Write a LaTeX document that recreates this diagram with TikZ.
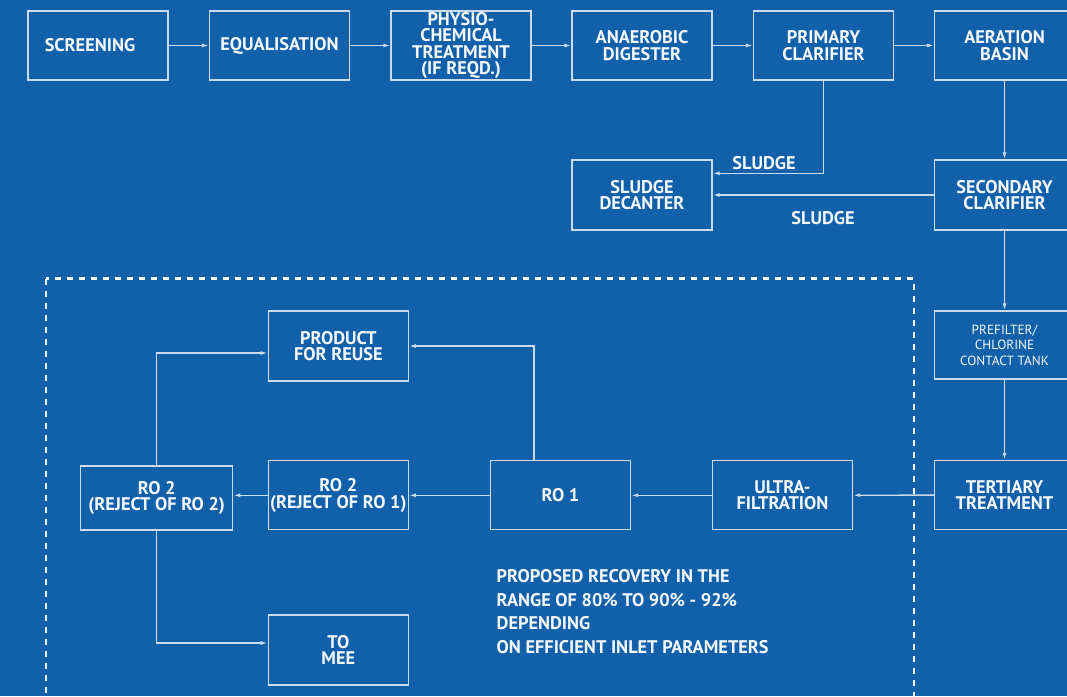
\documentclass[tikz,border=0pt]{standalone}
\usepackage{fontspec}
\setmainfont{PT Sans}
\usetikzlibrary{arrows.meta,calc}
\definecolor{bgblue}{RGB}{16,96,170}
\definecolor{linecol}{RGB}{205,218,235}
\definecolor{txtcol}{RGB}{246,248,252}
\newcommand{\bxfont}{\fontsize{18.3}{16.5}\selectfont\bfseries}
\newcommand{\lightfont}{\fontsize{13.3}{15.5}\selectfont}
\tikzset{
  stage/.style={draw=linecol, line width=1.3pt, minimum width=140pt, minimum height=69pt,
    align=center, font=\bxfont, text=txtcol, inner sep=0pt},
  flow/.style={draw=linecol, line width=1.3pt, -{Latex[length=7pt,width=4pt]}},
  lbl/.style={font=\bxfont, text=txtcol, inner sep=0pt},
  zone/.style={draw=txtcol, line width=2.2pt, dash pattern=on 6pt off 6pt}
}
\begin{document}
\begin{tikzpicture}[x=1pt,y=-1pt]
\fill[bgblue] (0,0) rectangle (1067,696);
\useasboundingbox (0,0) rectangle (1067,696);
\clip (0,0) rectangle (1067,696);
% dashed zone
\draw[zone] (46,278.5) rectangle (914,720);
% top row
\node[stage] (scr) at (98,45.5) {SCREENING\hspace*{16pt}};
\node[stage] (equ) at (279.5,45.5) {EQUALISATION};
\node[stage] (phy) at (461,45.5) {PHYSIO-\\CHEMICAL\\TREATMENT\\(IF REQD.)};
\node[stage] (ana) at (642,45.5) {ANAEROBIC\\DIGESTER};
\node[stage] (pri) at (823.5,45.5) {PRIMARY\\CLARIFIER};
\node[stage] (aer) at (1004.5,45.5) {AERATION\\BASIN};
% sludge row
\node[stage, minimum height=70pt] (dec) at (642,195) {SLUDGE\\DECANTER};
\node[stage, minimum height=70pt] (sec) at (1004.5,195) {SECONDARY\\CLARIFIER};
% right column
\node[stage, minimum height=68pt, font=\lightfont] (pre) at (1004.5,345) {PREFILTER/\\CHLORINE\\CONTACT TANK};
\node[stage] (ter) at (1004.5,495) {TERTIARY\\TREATMENT};
% bottom row
\node[stage] (uf) at (782.5,495.3) {ULTRA-\\FILTRATION};
\node[stage] (ro1) at (560.5,495.3) {RO 1};
\node[stage] (rr1) at (338.3,495.3) {RO 2\\(REJECT OF RO 1)};
\node[stage, minimum width=152pt, minimum height=64pt] (rr2) at (156.7,498) {RO 2\\(REJECT OF RO 2)};
\node[stage, minimum height=70pt] (prod) at (338.3,346) {PRODUCT\\FOR REUSE};
\node[stage, minimum height=70pt] (mee) at (338.3,650) {TO\\MEE};
% top row arrows
\draw[flow] (scr) -- (equ);
\draw[flow] (equ) -- (phy);
\draw[flow] (phy) -- (ana);
\draw[flow] (ana) -- (pri);
\draw[flow] (pri) -- (aer);
% right column arrows
\draw[flow] (aer) -- (sec);
\draw[flow] (sec) -- (pre);
\draw[flow] (pre) -- (ter);
% sludge
\coordinate (decin) at ($(dec.north east)+(0,14)$);
\draw[flow] (pri.south) |- (decin);
\draw[flow] (sec.west) -- (dec.east);
\node[lbl] (sl1) at (764,163) {SLUDGE};
\node[lbl] (sl2) at (823,218) {SLUDGE};
% bottom flows
\draw[flow] (ter) -- (uf);
\draw[flow] (uf) -- (ro1);
\draw[flow] (ro1) -- (rr1);
\draw[flow] (rr1.west) -- (rr1.west -| rr2.east);
\coordinate (prodin) at ($(prod.west)+(0,7)$);
\draw[flow] (rr2.north) |- (prodin);
\coordinate (ro1up) at ($(ro1.north west)+(44,0)$);
\draw[flow] (ro1up) |- (prod.east);
\coordinate (meein) at ($(mee.west)+(0,-7)$);
\draw[flow] (rr2.south) |- (meein);
% note
\node[lbl, anchor=north west, align=left, font=\fontsize{18.3}{23.5}\selectfont\bfseries] (note) at (496.5,569.5)
  {PROPOSED RECOVERY IN THE\\RANGE OF 80\% TO 90\% - 92\%\\DEPENDING\\ON EFFICIENT INLET PARAMETERS};
\end{tikzpicture}
\end{document}
